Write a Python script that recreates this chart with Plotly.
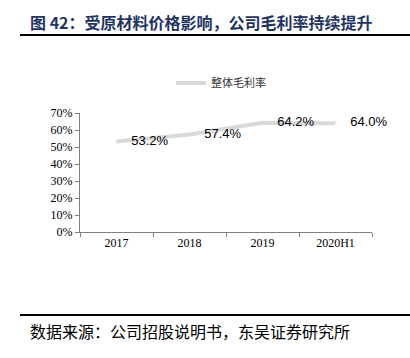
import plotly.graph_objects as go

categories = ["2017", "2018", "2019", "2020H1"]
margin_values = [0.532, 0.574, 0.642, 0.640]
label_texts = ["53.2%", "57.4%", "64.2%", "64.0%"]
series_name = "整体毛利率"
title_text = "<b>图 42：受原材料价格影响，公司毛利率持续提升</b>"
source_text = "数据来源：公司招股说明书，东吴证券研究所"

W, H = 410, 358
L, R, T, B = 80, 372, 113, 232

def px(x):
    return (x - L) / (R - L)

def py(y):
    return (B - y) / (B - T)

fig = go.Figure()
fig.add_trace(go.Scatter(
    x=categories, y=margin_values, mode="lines+markers+text", name=series_name,
    line=dict(color="#d9d9d9", width=4),
    marker=dict(size=22, color="rgba(0,0,0,0)"),
    text=label_texts, textposition="middle right",
    textfont=dict(family="Liberation Sans, Arial", size=13, color="#000000"),
    cliponaxis=False,
))

serif = dict(family="Liberation Serif", size=12, color="#000")

fig.update_layout(
    width=W, height=H,
    margin=dict(l=L, r=W - R, t=T, b=H - B),
    paper_bgcolor="white", plot_bgcolor="white",
    showlegend=True,
    legend=dict(orientation="h", x=px(221), xanchor="center", y=py(83), yanchor="middle",
                font=dict(family="Noto Sans CJK SC", size=11, color="#333333"),
                itemwidth=30),
    xaxis=dict(type="category", showgrid=False, showline=True, linecolor="#808080",
               ticks="outside", tickson="boundaries", ticklen=4, tickcolor="#808080",
               tickfont=serif, range=[-0.5, 3.5]),
    yaxis=dict(range=[0, 0.7], dtick=0.1, tickformat=".0%", showgrid=False,
               showline=True, linecolor="#808080", ticks="outside", ticklen=4,
               tickcolor="#808080", zeroline=False, tickfont=serif),
    font=dict(family="Noto Sans CJK SC"),
)

fig.add_annotation(text=title_text, xref="paper", yref="paper", x=px(28), y=py(22),
                   xanchor="left", yanchor="middle", showarrow=False,
                   font=dict(family="Noto Sans CJK SC", size=16, color="#1F3463"))
fig.add_annotation(text=source_text, xref="paper", yref="paper", x=px(28), y=py(331),
                   xanchor="left", yanchor="middle", showarrow=False,
                   font=dict(family="Noto Sans CJK SC", size=16, color="#000000"))
fig.add_shape(type="line", xref="paper", yref="paper", x0=px(20), x1=px(410),
              y0=py(35), y1=py(35), line=dict(color="#000000", width=2))
fig.add_shape(type="line", xref="paper", yref="paper", x0=px(20), x1=px(410),
              y0=py(315), y1=py(315), line=dict(color="#000000", width=2))

fig.write_html("out.html", config={"displayModeBar": False},
               post_script="document.body.style.margin='0';")
